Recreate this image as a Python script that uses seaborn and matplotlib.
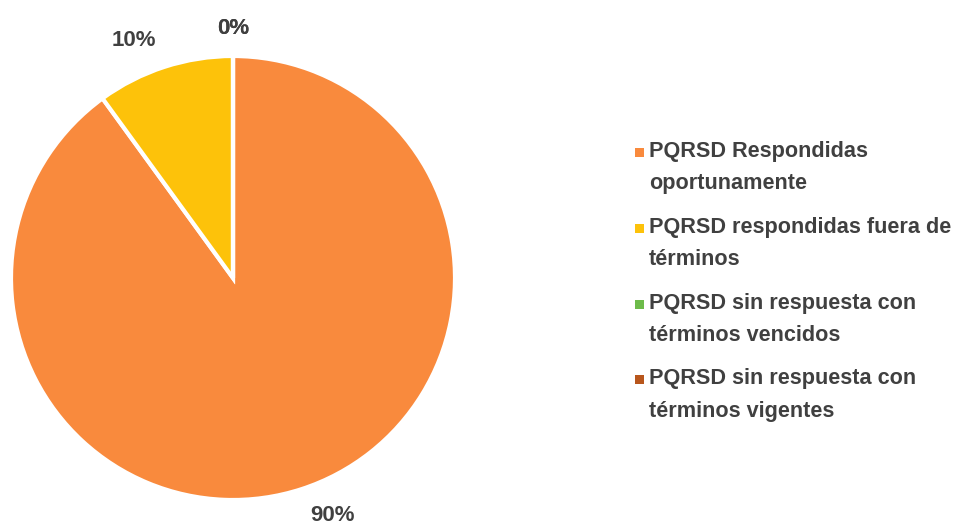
import matplotlib
matplotlib.use("Agg")
import matplotlib.pyplot as plt
import matplotlib.patches as mpatches
import seaborn as sns

categories = [
    "PQRSD Respondidas\noportunamente",
    "PQRSD respondidas fuera de\ntérminos",
    "PQRSD sin respuesta con\ntérminos vencidos",
    "PQRSD sin respuesta con\ntérminos vigentes",
]
values = [90, 10, 0, 0]
pct_labels = ["90%", "10%", "0%", "0%"]
colors = ["#F98A3D", "#FDC20A", "#6DBB4A", "#B8561C"]

sns.set_theme(style="white")
plt.rcParams["font.family"] = ["Liberation Sans", "DejaVu Sans"]
text_color = "#404040"

W, H = 956, 529
fig = plt.figure(figsize=(W / 100, H / 100), dpi=100)
ax = fig.add_axes([11 / W, 29 / H, 444 / W, 444 / H])

wedges, texts = ax.pie(
    values,
    labels=pct_labels,
    colors=colors,
    startangle=90,
    counterclock=False,
    labeldistance=1.125,
    wedgeprops=dict(edgecolor="white", linewidth=3),
    textprops=dict(fontsize=16, fontweight="bold", color=text_color),
)
# zero slices sit at the top, center their label
for t, v in zip(texts, values):
    if v == 0:
        t.set_ha("center")
ax.set_xlim(-1, 1)
ax.set_ylim(-1, 1)

# legend drawn by hand so the line spacing matches
y0, step = 153, 75.8
for i, (lab, c) in enumerate(zip(categories, colors)):
    y = y0 + i * step
    fig.patches.append(mpatches.Rectangle(
        (635 / W, 1 - (y + 4) / H), 9 / W, 9 / H,
        transform=fig.transFigure, facecolor=c, edgecolor="none"))
    fig.text(649 / W, 1 - (y - 12) / H, lab, ha="left", va="top",
             fontsize=15.6, fontweight="bold", color=text_color,
             linespacing=1.7)

fig.savefig("out.png", dpi=100)
